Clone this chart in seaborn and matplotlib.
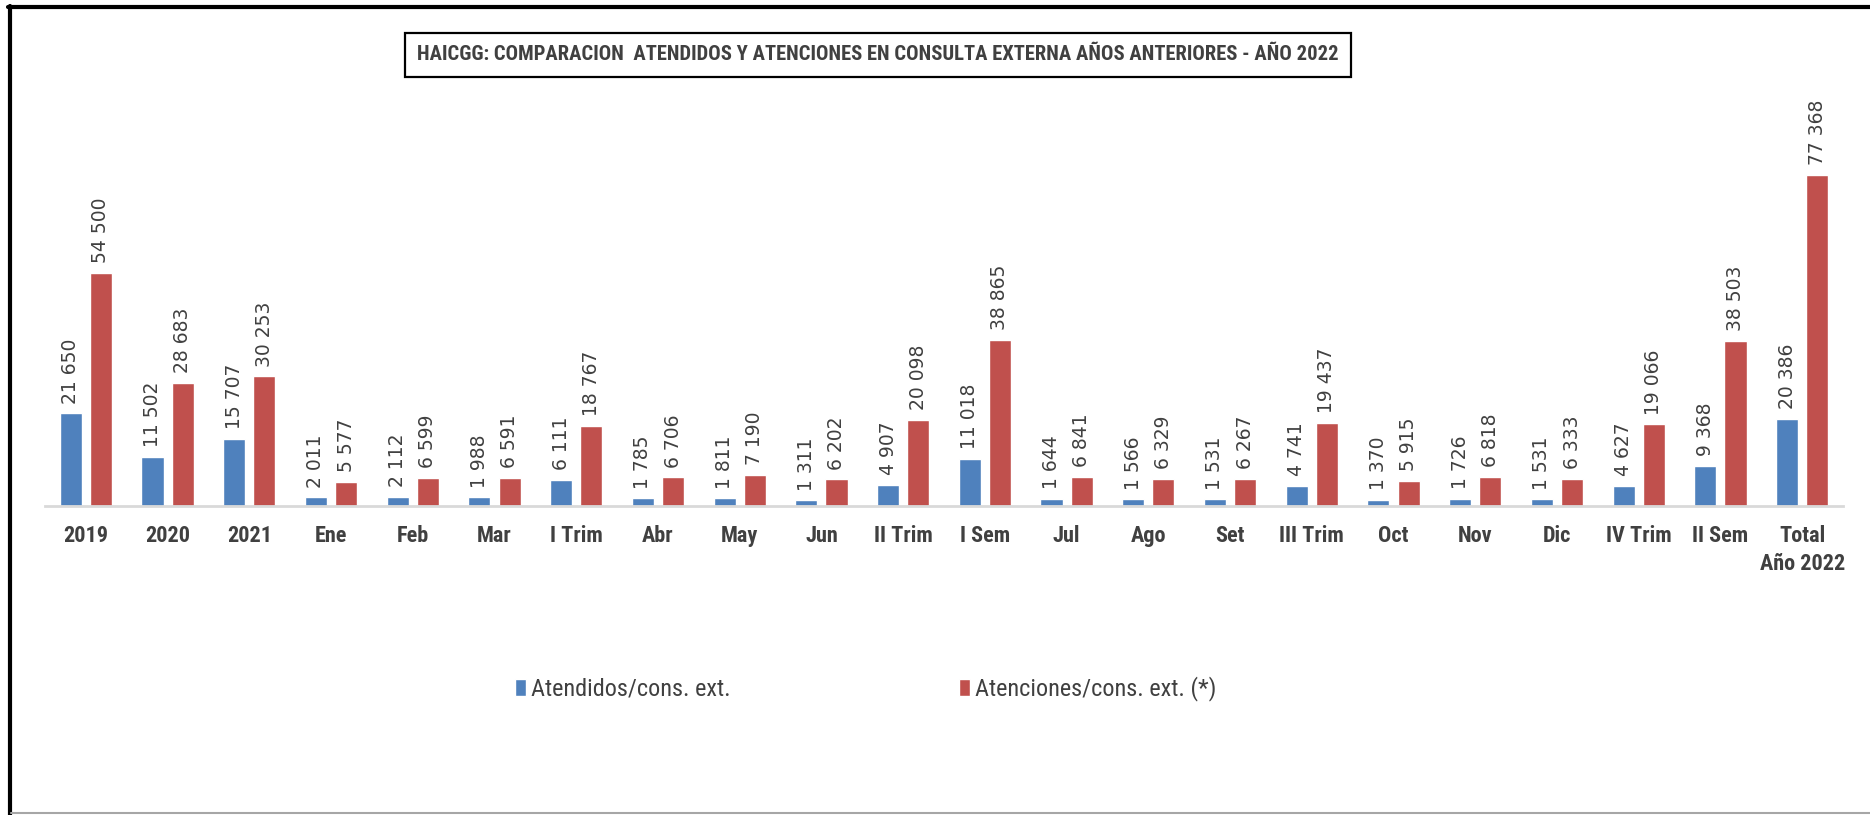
import matplotlib
matplotlib.use("Agg")
import matplotlib.pyplot as plt
from matplotlib.lines import Line2D
import seaborn as sns
import pandas as pd

# Periods shown on the x axis
categories = ["2019", "2020", "2021", "Ene", "Feb", "Mar", "I Trim", "Abr", "May",
              "Jun", "II Trim", "I Sem", "Jul", "Ago", "Set", "III Trim", "Oct",
              "Nov", "Dic", "IV Trim", "II Sem", "Total\nAño 2022"]

series_names = ["Atendidos/cons. ext.", "Atenciones/cons. ext. (*)"]

atendidos = [21650, 11502, 15707, 2011, 2112, 1988, 6111, 1785, 1811, 1311, 4907,
             11018, 1644, 1566, 1531, 4741, 1370, 1726, 1531, 4627, 9368, 20386]
atenciones = [54500, 28683, 30253, 5577, 6599, 6591, 18767, 6706, 7190, 6202, 20098,
              38865, 6841, 6329, 6267, 19437, 5915, 6818, 6333, 19066, 38503, 77368]

title = ("HAICGG: COMPARACION  ATENDIDOS Y ATENCIONES EN CONSULTA EXTERNA "
         "AÑOS ANTERIORES - AÑO 2022")

df = pd.DataFrame({
    "periodo": categories * 2,
    "serie": [series_names[0]] * len(categories) + [series_names[1]] * len(categories),
    "valor": atendidos + atenciones,
})

sns.set_theme(style="white")
plt.rcParams["font.family"] = ["DejaVu Sans"]

W, H = 1870, 815
fig = plt.figure(figsize=(W / 100, H / 100), dpi=100)
fig.patch.set_facecolor("white")
ax = fig.add_axes([45 / W, 1 - 506 / H, (1843 - 45) / W, (506 - 100) / H])

palette = {series_names[0]: "#4f81bd", series_names[1]: "#c0504d"}
sns.barplot(data=df, x="periodo", y="valor", hue="serie", order=categories,
            hue_order=series_names, palette=palette, errorbar=None,
            width=0.74, gap=0.27, saturation=1, ax=ax, legend=True)

ax.set_ylim(0, 94800)
ax.set_xlim(-0.5, len(categories) - 0.5)
ax.set_xlabel("")
ax.set_ylabel("")
ax.set_yticks([])
for side in ["top", "left", "right"]:
    ax.spines[side].set_visible(False)
ax.spines["bottom"].set_color("#d9d9d9")
ax.spines["bottom"].set_linewidth(2)
ax.tick_params(axis="x", length=0, pad=14)

label_font = ["Roboto Condensed", "Roboto", "DejaVu Sans"]
for lab in ax.get_xticklabels():
    lab.set_fontfamily(label_font)
    lab.set_fontweight("bold")
    lab.set_fontsize(16)
    lab.set_color("#404040")
    lab.set_linespacing(1.35)

# Value labels above each bar, rotated vertically
fmt = lambda v: f"{int(v):,}".replace(",", " ")
for cont in ax.containers:
    ax.bar_label(cont, labels=[fmt(b.get_height()) for b in cont], rotation=90,
                 padding=7, fontsize=13.5, color="#404040", family="DejaVu Sans")

# Legend placed below the plot
handles, labels = ax.get_legend_handles_labels()
ax.legend_.remove()
fig.legend(handles, labels, loc="center", bbox_to_anchor=(866 / W, 1 - 689 / H),
           ncol=2, frameon=False, handlelength=0.45, handleheight=0.75,
           handletextpad=0.2, columnspacing=9.4,
           prop={"family": label_font, "size": 17.5})
for t in fig.legends[0].get_texts():
    t.set_color("#404040")

# Boxed title
fig.text(878 / W, 1 - 55 / H, title, ha="center", va="center", fontsize=14.9,
         fontweight="bold", color="#404040", family=label_font,
         bbox=dict(boxstyle="square,pad=0.6", fc="white", ec="black", lw=1.6))

# Outer frame lines
fig.add_artist(Line2D([9.5 / W, 9.5 / W], [0, 1 - 6 / H], transform=fig.transFigure,
                      color="black", lw=3))
fig.add_artist(Line2D([8 / W, 1], [1 - 6.5 / H, 1 - 6.5 / H], transform=fig.transFigure,
                      color="black", lw=3))
fig.add_artist(Line2D([11 / W, 1], [1 - 813 / H, 1 - 813 / H], transform=fig.transFigure,
                      color="#a6a6a6", lw=1.5))

fig.savefig("out.png", dpi=100, facecolor="white")
